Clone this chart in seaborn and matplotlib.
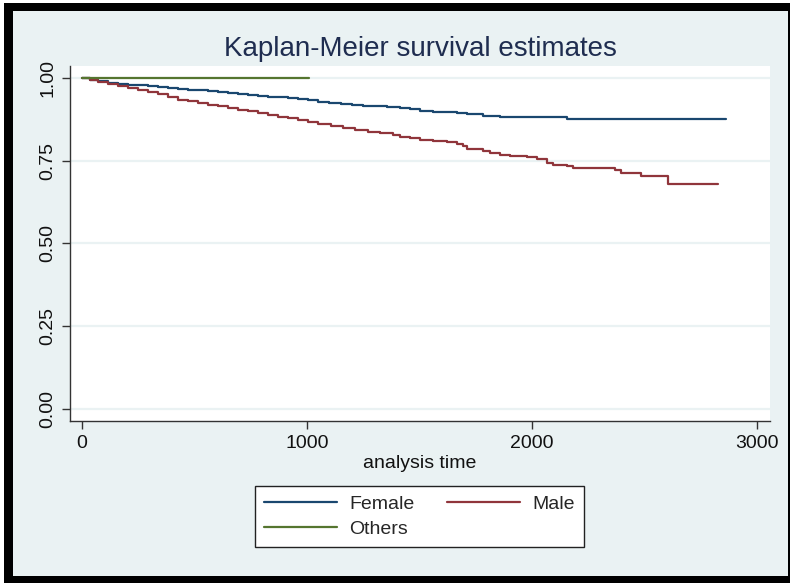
import matplotlib
matplotlib.use("Agg")
import matplotlib.pyplot as plt
import pandas as pd
import seaborn as sns
from matplotlib.patches import Rectangle

# Kaplan-Meier step estimates per group (analysis time, survival)
female_time = [0, 35, 71, 115, 160, 205, 249, 293, 338, 383,
               427, 472, 516, 560, 604, 650, 693, 738, 782, 826,
               871, 915, 960, 1005, 1049, 1100, 1150, 1200, 1250, 1300,
               1355, 1413, 1458, 1502, 1560, 1622, 1665, 1711, 1784, 1858,
               1950, 2155, 2862]
female_surv = [1.000, 0.995, 0.990, 0.986, 0.983, 0.980, 0.978, 0.975, 0.972, 0.969,
               0.966, 0.964, 0.962, 0.959, 0.957, 0.954, 0.952, 0.949, 0.946, 0.943,
               0.941, 0.938, 0.936, 0.932, 0.928, 0.925, 0.922, 0.919, 0.916, 0.914,
               0.911, 0.908, 0.905, 0.899, 0.898, 0.896, 0.893, 0.890, 0.886, 0.883,
               0.881, 0.876, 0.876]

male_time = [0, 35, 71, 115, 160, 205, 249, 293, 338, 383,
             427, 472, 516, 560, 604, 650, 693, 738, 782, 826,
             871, 915, 960, 1005, 1049, 1105, 1161, 1215, 1270, 1325,
             1384, 1413, 1458, 1502, 1561, 1622, 1665, 1695, 1711, 1784,
             1813, 1858, 1902, 1976, 2021, 2066, 2095, 2155, 2183, 2369,
             2398, 2483, 2604, 2825]
male_surv = [1.000, 0.994, 0.988, 0.982, 0.976, 0.970, 0.963, 0.956, 0.950, 0.942,
             0.934, 0.929, 0.924, 0.919, 0.914, 0.909, 0.904, 0.899, 0.894, 0.889,
             0.883, 0.878, 0.872, 0.866, 0.860, 0.854, 0.848, 0.843, 0.838, 0.833,
             0.828, 0.823, 0.818, 0.813, 0.809, 0.805, 0.801, 0.793, 0.786, 0.780,
             0.774, 0.768, 0.764, 0.761, 0.756, 0.742, 0.738, 0.734, 0.727, 0.722,
             0.712, 0.705, 0.681, 0.681]

others_time = [0, 1009]
others_surv = [1.000, 1.000]

groups = ["Female", "Male", "Others"]
colors = ["#1a476f", "#90353b", "#55752f"]

y_ticks = [0.0, 0.25, 0.5, 0.75, 1.0]
y_tick_labels = ["0.00", "0.25", "0.50", "0.75", "1.00"]
x_ticks = [0, 1000, 2000, 3000]
x_tick_labels = ["0", "1000", "2000", "3000"]

df = pd.concat([
    pd.DataFrame({"time": female_time, "survival": female_surv, "group": "Female"}),
    pd.DataFrame({"time": male_time, "survival": male_surv, "group": "Male"}),
    pd.DataFrame({"time": others_time, "survival": others_surv, "group": "Others"}),
], ignore_index=True)

sns.set_theme(style="white")
plt.rcParams["font.family"] = ["Liberation Sans", "DejaVu Sans"]

W, H = 790, 583
fig = plt.figure(figsize=(W / 100, H / 100), dpi=100, facecolor="white")

# outer black frame and light graph region
fig.add_artist(Rectangle((4 / W, 0), 786 / W, 580 / H, transform=fig.transFigure,
                         facecolor="black", edgecolor="none", zorder=-2))
fig.add_artist(Rectangle((13 / W, 7 / H), 775 / W, 565 / H, transform=fig.transFigure,
                         facecolor="#eaf2f3", edgecolor="none", zorder=-1))

ax = fig.add_axes([70 / W, (H - 421) / H, 700 / W, 355 / H])
ax.set_facecolor("white")

sns.lineplot(data=df, x="time", y="survival", hue="group", hue_order=groups,
             palette=colors, estimator=None, sort=False, drawstyle="steps-post",
             linewidth=1.6, ax=ax, legend=False)

ax.set_xlim(-53, 3058)
ax.set_ylim(-0.0363, 1.036)
ax.set_yticks(y_ticks)
ax.set_yticklabels(y_tick_labels)
ax.set_xticks(x_ticks)
ax.set_xticklabels(x_tick_labels)
ax.yaxis.grid(True, color="#eaf2f3", linewidth=1.6)
ax.xaxis.grid(False)
ax.set_axisbelow(True)

for side in ["top", "right"]:
    ax.spines[side].set_visible(False)
for side in ["left", "bottom"]:
    ax.spines[side].set_color("#333333")
    ax.spines[side].set_linewidth(1.0)

ax.tick_params(axis="both", direction="out", length=6, width=1, color="#333333",
               labelsize=14, labelcolor="#111111", pad=4, bottom=True, left=True)
ax.tick_params(axis="y", labelrotation=90)
for lab in ax.get_yticklabels():
    lab.set_va("center")

ax.set_xlabel("analysis time", fontsize=14, color="#111111", labelpad=2)
ax.set_ylabel("")
ax.set_title("Kaplan-Meier survival estimates", fontsize=20, color="#1f2d50", pad=7)

handles = {g: plt.Line2D([], [], color=c, linewidth=1.6) for g, c in zip(groups, colors)}
order = ["Female", "Others", "Male"]
leg = fig.legend([handles[g] for g in order], order, loc="center",
                 bbox_to_anchor=(419.5 / W, (H - 516.5) / H), ncol=2, fontsize=14,
                 frameon=True, fancybox=False, edgecolor="#222222", facecolor="white",
                 handlelength=3.75, columnspacing=1.65, handletextpad=0.65,
                 borderpad=0.45, labelspacing=0.4)
leg.get_frame().set_linewidth(1.0)
leg.get_frame().set_alpha(1)

fig.savefig("out.png", dpi=100, facecolor=fig.get_facecolor())
